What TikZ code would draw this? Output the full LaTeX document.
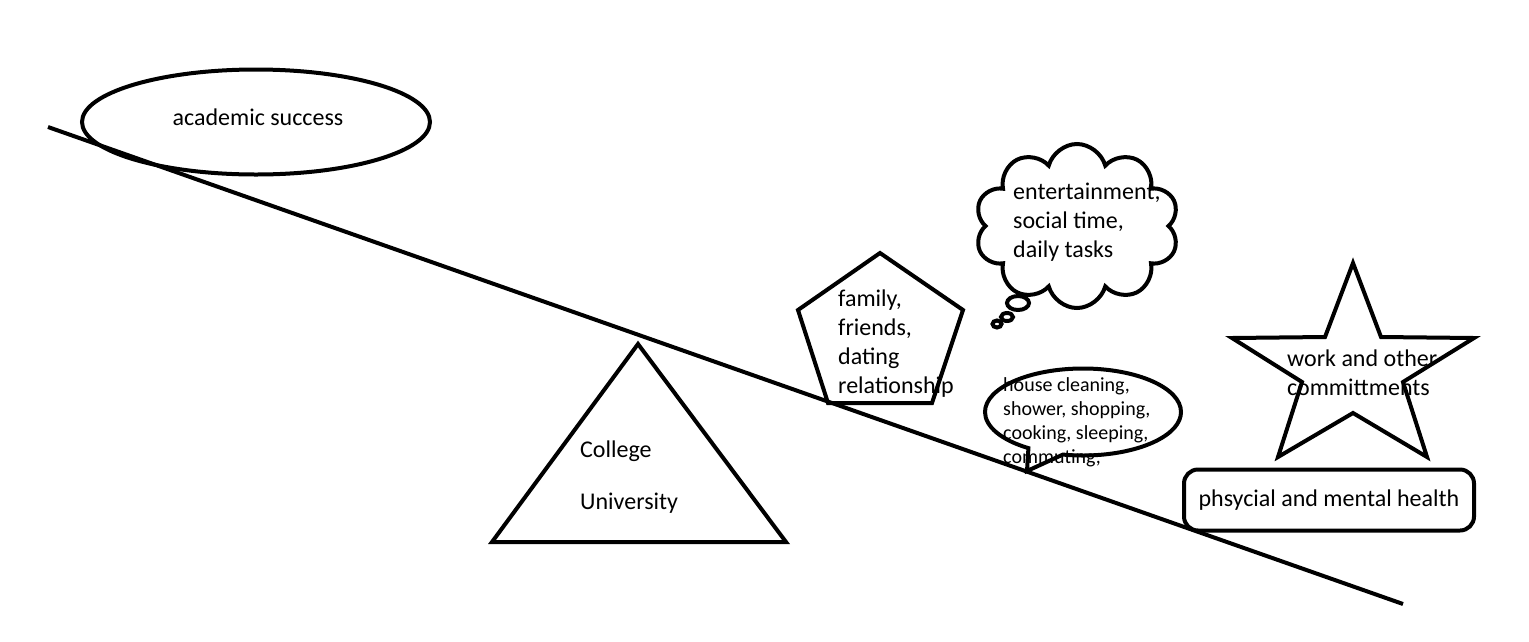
\documentclass[tikz,border=0pt]{standalone}
\usepackage{fontspec}
\setmainfont{Carlito}
\usetikzlibrary{positioning, shapes.geometric, shapes.symbols, shapes.callouts}

\begin{document}
\begin{tikzpicture}[x=1pt, y=-1pt,
	outline/.style={draw, line width=4pt},
	txt/.style={font=\fontsize{24}{29}\selectfont, align=left, inner sep=0pt, anchor=west},
	smalltxt/.style={font=\fontsize{20}{24}\selectfont, align=left, inner sep=0pt, anchor=west}]
		\useasboundingbox (0,0) rectangle (1529,641);
		\coordinate (beam-l) at (48,127);
		\coordinate (beam-r) at (1403,604);
		
		\node[outline, ellipse, minimum width=348pt, minimum height=105pt] (goal) at (256,122) {};
		\node[txt, anchor=center] (goal-t) at (258,117) {academic success};
		\draw[outline] (beam-l) -- (beam-r);
		
		\draw[outline] (492,542) -- (786,542) -- (638,344) -- cycle;
		\node[txt] (college) at (580,451) {College};
		\node[txt, below=52pt of college.west, anchor=west] (univ) {University};
		
		\draw[outline] (880,253) -- (963,310) -- (932,403) -- (828,403) -- (798,310) -- cycle;
		\node[txt] (family) at (838,344) {family,\\friends,\\dating\\relationship};
		
		\node[outline, cloud, cloud puffs=10, cloud ignores aspect, minimum width=204pt, minimum height=164pt] (thought) at (1077,226) {};
		\node[txt] (thought-t) at (1013,222) {entertainment,\\social time,\\daily tasks};
		\draw[outline] (1018,303) ellipse [x radius=11, y radius=7];
		\draw[outline] (1007,317) ellipse [x radius=6, y radius=4];
		\draw[outline] (997,324) ellipse [x radius=4.5, y radius=3.5];
		
		\node[smalltxt] (chores) at (1003,422) {house cleaning,\\shower, shopping,\\cooking, sleeping,\\commuting,};
		\node[outline, ellipse callout, minimum width=196pt, minimum height=87pt, callout pointer arc=22, callout absolute pointer={(1027,471)}] (speech) at (1083,412) {};
		
		\draw[outline] (1353,263) -- (1381,337) -- (1474,338) -- (1403,382) -- (1427,457) -- (1353,413) -- (1278,457) -- (1302,382) -- (1232,338) -- (1325,337) -- cycle;
		\node[txt] (work) at (1287,373) {work and other\\committments};
		
		\node[outline, rectangle, rounded corners=14pt, minimum width=290pt, minimum height=61pt, font=\fontsize{24}{29}\selectfont] (health) at (1329,500) {phsycial and mental health};
	\end{tikzpicture}
\end{document}
